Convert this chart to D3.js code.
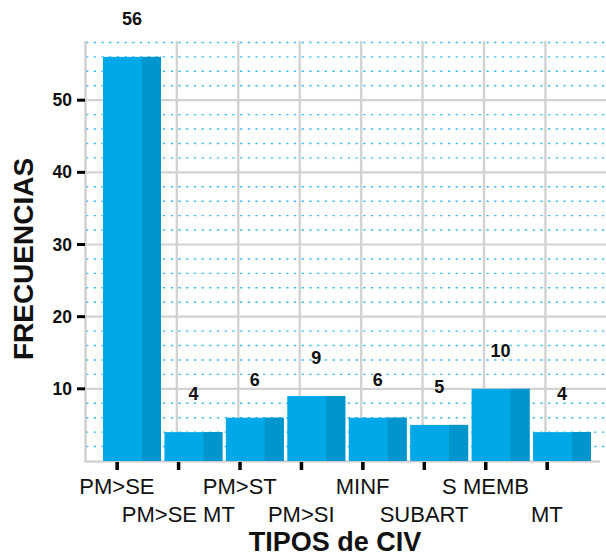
<!DOCTYPE html>
<html>
<head>
<meta charset="utf-8">
<script src="https://cdn.jsdelivr.net/npm/d3@7/dist/d3.min.js"></script>
<style>
html,body{margin:0;padding:0;background:#fff;}
svg{display:block;font-family:"Liberation Sans",Arial,sans-serif;}
</style>
</head>
<body>
<svg id="chart" width="606" height="556"></svg>
<script>
const categories = ["PM>SE","PM>SE MT","PM>ST","PM>SI","MINF","SUBART","S MEMB","MT"];
const values = [56,4,6,9,6,5,10,4];
const yTicks = [10,20,30,40,50];
const yMinor = [2,4,6,8,12,14,16,18,22,24,26,28,32,34,36,38,42,44,46,48,52,54,56,58];
const xTitle = "TIPOS de CIV";
const yTitle = "FRECUENCIAS";

(function () {
const svg = d3.select("#chart");
const pLeft = 86, pRight = 606, pTop = 41, pBottom = 461;

const x = d3.scaleBand().domain(categories).range([103, 591]).paddingInner(0.056).paddingOuter(0);
const y = d3.scaleLinear().domain([0, 58.2]).range([pBottom, pTop]);
const bw = x.bandwidth();
const tickX = c => x(c) + bw * 0.24;

// dotted minor lines
svg.append("g").selectAll("line").data(yMinor).join("line")
  .attr("x1", pLeft).attr("x2", pRight)
  .attr("y1", d => y(d)).attr("y2", d => y(d))
  .attr("stroke", "#3cbcee").attr("stroke-width", 1.4)
  .attr("stroke-dasharray", "2.3,5.4");

// horizontal gray gridlines
svg.append("g").selectAll("line").data(yTicks).join("line")
  .attr("x1", pLeft).attr("x2", pRight)
  .attr("y1", d => y(d)).attr("y2", d => y(d))
  .attr("stroke", "#d2d2d2").attr("stroke-width", 2.2);

// vertical gray gridlines
svg.append("g").selectAll("line").data(categories.slice(1)).join("line")
  .attr("x1", d => tickX(d) - 1.5).attr("x2", d => tickX(d) - 1.5)
  .attr("y1", pTop).attr("y2", pBottom)
  .attr("stroke", "#d2d2d2").attr("stroke-width", 2.4);

// axis lines
svg.append("line").attr("x1", pLeft - 0.5).attr("x2", pLeft - 0.5).attr("y1", pTop).attr("y2", pBottom + 1)
  .attr("stroke", "#cccccc").attr("stroke-width", 2.2);
svg.append("line").attr("x1", pLeft - 1.5).attr("x2", 600).attr("y1", pBottom + 0.5).attr("y2", pBottom + 0.5)
  .attr("stroke", "#cccccc").attr("stroke-width", 2.2);

// bars
const bars = svg.append("g").selectAll("g").data(categories).join("g");
bars.append("rect")
  .attr("x", d => x(d)).attr("width", bw)
  .attr("y", (d, i) => y(values[i])).attr("height", (d, i) => pBottom - y(values[i]))
  .attr("fill", "#00a8e8");
bars.append("rect")
  .attr("x", d => x(d) + bw * 0.67).attr("width", bw * 0.33)
  .attr("y", (d, i) => y(values[i])).attr("height", (d, i) => pBottom - y(values[i]))
  .attr("fill", "#0095cc");

// value labels
svg.append("g").selectAll("text").data(categories).join("text")
  .attr("x", d => x(d) + bw / 2)
  .attr("y", (d, i) => y(values[i]) - 32)
  .attr("text-anchor", "middle")
  .attr("font-weight", "bold").attr("font-size", 18).attr("fill", "#111")
  .text((d, i) => values[i]);

// y ticks
svg.append("g").selectAll("rect").data(yTicks).join("rect")
  .attr("x", 77).attr("width", 8).attr("y", d => y(d) - 1.5).attr("height", 3).attr("fill", "#000");
svg.append("g").selectAll("text").data(yTicks).join("text")
  .attr("x", 72).attr("y", d => y(d) + 6)
  .attr("text-anchor", "end").attr("font-weight", "bold").attr("font-size", 17.5).attr("fill", "#111")
  .text(d => d);

// x ticks
svg.append("g").selectAll("rect").data(categories).join("rect")
  .attr("x", d => tickX(d) - 1.5).attr("width", 3.5).attr("y", pBottom + 1).attr("height", 8).attr("fill", "#000");
svg.append("g").selectAll("text").data(categories).join("text")
  .attr("x", d => tickX(d))
  .attr("y", (d, i) => i % 2 === 0 ? 494 : 522)
  .attr("text-anchor", "middle").attr("font-size", 22).attr("fill", "#111")
  .text(d => d);

// titles
svg.append("text").attr("x", 335).attr("y", 551).attr("text-anchor", "middle")
  .attr("font-weight", "bold").attr("font-size", 27).attr("fill", "#111").text(xTitle);
svg.append("text").attr("transform", "translate(33,259) rotate(-90)").attr("text-anchor", "middle")
  .attr("font-weight", "bold").attr("font-size", 28).attr("fill", "#111").text(yTitle);
})();
</script>
</body>
</html>
